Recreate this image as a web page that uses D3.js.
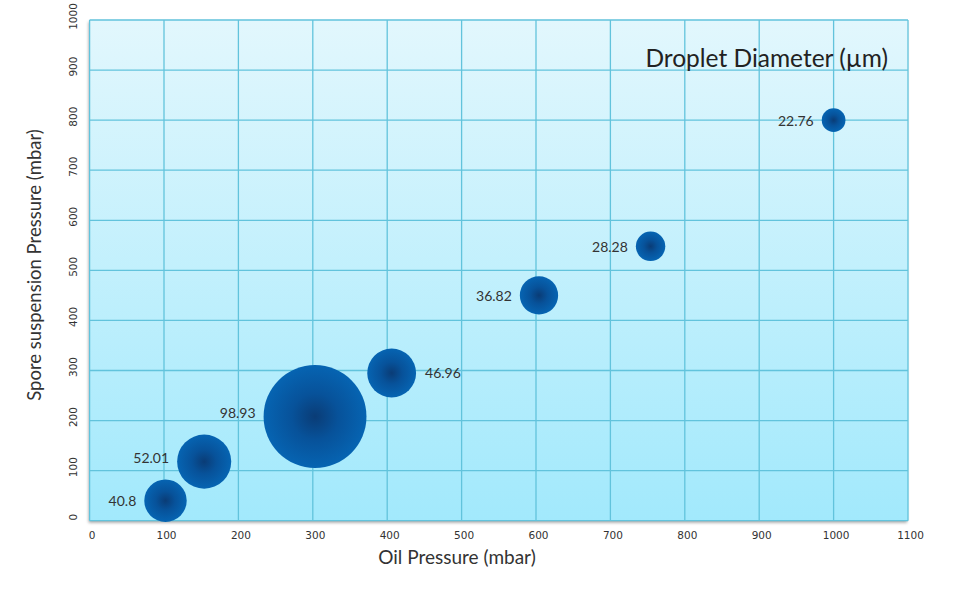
<!DOCTYPE html>
<html><head><meta charset="utf-8">
<script src="https://cdn.jsdelivr.net/npm/d3@7"></script>
<style>body{margin:0;background:#fff}svg{display:block}</style>
</head><body>
<svg id="c" width="977" height="606"></svg>
<script>
const oilPressure = [102, 154, 303, 406, 604, 754, 1000];
const sporePressure = [40, 118, 208, 295, 450, 548, 800];
const diameter = [40.8, 52.01, 98.93, 46.96, 36.82, 28.28, 22.76];
const labelSide = ["left", "left", "left", "right", "left", "left", "left"];
const xTicks = [0,100,200,300,400,500,600,700,800,900,1000,1100];
const yTicks = [0,100,200,300,400,500,600,700,800,900,1000];

const svg = d3.select("#c");
const L = 89.6, R = 908, T = 20, B = 520.7;
const x = d3.scaleLinear().domain([0, 1100]).range([L, R]);
const y = d3.scaleLinear().domain([0, 1000]).range([B, T]);
const r = d3.scaleLinear().domain([0, 100]).range([0, 52]);

const defs = svg.append("defs");
const bg = defs.append("linearGradient").attr("id","bg").attr("x1",0).attr("y1",0).attr("x2",0).attr("y2",1);
bg.append("stop").attr("offset","0%").attr("stop-color","#e2f7fd");
bg.append("stop").attr("offset","100%").attr("stop-color","#a2e9fc");
const bub = defs.append("radialGradient").attr("id","bub");
bub.append("stop").attr("offset","0%").attr("stop-color","#0a3c76");
bub.append("stop").attr("offset","45%").attr("stop-color","#07529a");
bub.append("stop").attr("offset","100%").attr("stop-color","#0664b2");
const sh = defs.append("filter").attr("id","sh").attr("x","-5%").attr("y","-5%").attr("width","110%").attr("height","110%");
sh.append("feDropShadow").attr("dx",-1).attr("dy",2).attr("stdDeviation",1.5).attr("flood-color","#000").attr("flood-opacity",0.35);

svg.append("rect").attr("x",L).attr("y",T).attr("width",R-L).attr("height",B-T)
  .attr("fill","url(#bg)").attr("filter","url(#sh)");

const grid = svg.append("g").attr("stroke","#62c3dc").attr("stroke-width",1.3);
grid.selectAll("line.v").data(xTicks).join("line").attr("class","v")
  .attr("x1",d=>x(d)).attr("x2",d=>x(d)).attr("y1",T).attr("y2",B);
grid.selectAll("line.h").data(yTicks).join("line").attr("class","h")
  .attr("x1",L).attr("x2",R).attr("y1",d=>y(d)).attr("y2",d=>y(d));

// x axis
const xAxis = svg.append("g").attr("transform",`translate(0,${B})`)
  .call(d3.axisBottom(x).tickValues(xTicks).tickFormat(d3.format("d")).tickSize(0).tickPadding(9));
xAxis.select(".domain").remove();
xAxis.selectAll("text").attr("font-family","DejaVu Sans").attr("font-size",10.5).attr("fill","#333")
  .attr("dx",2).attr("dy","0.9em");

// y axis (rotated labels)
const yAxis = svg.append("g").attr("transform",`translate(${L},0)`)
  .call(d3.axisLeft(y).tickValues(yTicks).tickFormat(d3.format("d")).tickSize(0));
yAxis.select(".domain").remove();
yAxis.selectAll("text").attr("font-family","DejaVu Sans").attr("font-size",10.5).attr("fill","#333")
  .attr("text-anchor","middle").attr("dy",0).attr("x",0)
  .attr("transform","translate(-17,-4) rotate(-90)").attr("dominant-baseline","central");

const data = oilPressure.map((d,i)=>({x:d, y:sporePressure[i], v:diameter[i], side:labelSide[i]}));
data.sort((a,b)=>b.v-a.v);
svg.selectAll("circle.b").data(data).join("circle").attr("class","b")
  .attr("cx",d=>x(d.x)).attr("cy",d=>y(d.y)).attr("r",d=>r(d.v)).attr("fill","url(#bub)");

svg.selectAll("text.lab").data(data).join("text").attr("class","lab")
  .attr("x",d=>d.side==="left" ? x(d.x)-r(d.v)-8 : x(d.x)+r(d.v)+9)
  .attr("y",d=>y(d.y)-(d.v>50?4:0))
  .attr("text-anchor",d=>d.side==="left"?"end":"start")
  .attr("dominant-baseline","central")
  .attr("font-family","Lato").attr("font-size",14).attr("fill","#333")
  .text(d=>d.v);

svg.append("text").attr("x",888).attr("y",57).attr("text-anchor","end").attr("dominant-baseline","central")
  .attr("font-family","Lato").attr("font-size",24.5).attr("fill","#222").text("Droplet Diameter (µm)");

svg.append("text").attr("x",457).attr("y",556).attr("text-anchor","middle").attr("dominant-baseline","central")
  .attr("font-family","Lato").attr("font-size",19).attr("fill","#333").text("Oil Pressure (mbar)");
svg.append("text").attr("transform",`translate(34,265) rotate(-90)`).attr("text-anchor","middle").attr("dominant-baseline","central")
  .attr("font-family","Lato").attr("font-size",18.5).attr("fill","#333").text("Spore suspension Pressure (mbar)");
</script>
</body></html>
